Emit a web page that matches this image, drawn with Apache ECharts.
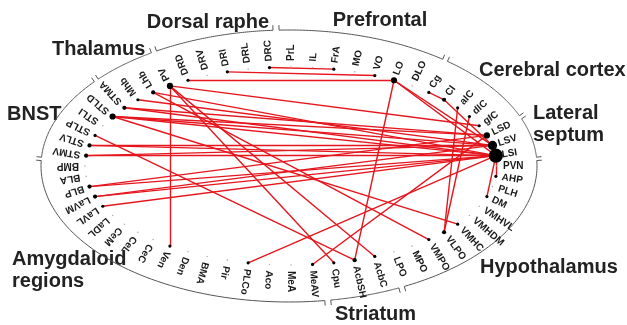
<!DOCTYPE html>
<html>
<head>
<meta charset="utf-8">
<script src="https://cdn.jsdelivr.net/npm/echarts@6/dist/echarts.min.js"></script>
<style>
  html, body { margin: 0; padding: 0; background: #fff; }
  #chart { width: 627px; height: 325px; }
</style>
</head>
<body>
<div id="chart"></div>
<script>
// Brain regions, each group listed counter-clockwise around the ring,
// starting at the lateral septum on the right-hand side.
const groupNames = ['Lateral septum', 'Cerebral cortex', 'Prefrontal', 'Dorsal raphe', 'Thalamus',
  'BNST', 'Amygdaloid regions', 'Striatum', 'Hypothalamus'];
const lateralSeptum = ['LSI', 'LSV', 'LSD'];
const cerebralCortex = ['gIC', 'dIC', 'aIC', 'Cl', 'Cg'];
const prefrontal = ['DLO', 'LO', 'VO', 'MO', 'FrA', 'IL', 'PrL'];
const dorsalRaphe = ['DRC', 'DRL', 'DRI', 'DRV', 'DRD'];
const thalamus = ['PV', 'Lhb', 'Mhb'];
const bnst = ['STMA', 'STLD', 'STLI', 'STLP', 'STLV', 'STMV'];
const amygdaloid = ['BMP', 'BLA', 'BLP', 'LaVM', 'LaVL', 'LaDL', 'CeM', 'CeL', 'CeC', 'Ven', 'Den',
  'BMA', 'Pir', 'PLCo', 'Aco', 'MeA', 'MeAV'];
const striatum = ['Cpu', 'AcbSH', 'AcbC'];
const hypothalamus = ['LPO', 'MPO', 'VMPO', 'VLPO', 'VMHC', 'VMHDM', 'VMHVL', 'DM', 'PLH', 'AHP', 'PVN'];

// Pairs of connected regions
const connections = [
  ['DRC', 'FrA'], ['DRI', 'VO'], ['DRD', 'LO'],
  ['PV', 'Ven'], ['PV', 'gIC'], ['PV', 'Cpu'], ['PV', 'AcbC'],
  ['Lhb', 'LSI'], ['Lhb', 'VMPO'], ['Mhb', 'LSV'],
  ['STMA', 'LSD'], ['STMA', 'LSI'],
  ['STLD', 'LSD'], ['STLD', 'LSV'], ['STLD', 'LSI'], ['STLD', 'VMHC'],
  ['STLP', 'AcbSH'],
  ['STLV', 'LSI'], ['STLV', 'LSV'], ['STMV', 'LSI'], ['STMV', 'LSV'],
  ['BLP', 'LSI'], ['BLP', 'LSD'], ['LaVM', 'LSV'], ['LaVM', 'LSI'], ['LaVL', 'LSI'],
  ['PLCo', 'LSI'], ['MeAV', 'LSD'], ['AcbSH', 'LO'],
  ['aIC', 'VLPO'], ['dIC', 'VLPO'], ['Cg', 'Cl'], ['Cl', 'LSV'],
  ['LO', 'LSI'], ['LO', 'LSV'], ['AHP', 'LSI'], ['DM', 'LSI']
];

const groups = [lateralSeptum, cerebralCortex, prefrontal, dorsalRaphe, thalamus, bnst,
  amygdaloid, striatum, hypothalamus];
const nodes = [].concat(...groups);

// Ring geometry (pixel units of the hidden 1:1 axes)
const RING = { cx: 291, cy: 166, rx: 206, ry: 99 };
const BRACE = { cx: 289, cy: 166, rx: 248, ry: 136 };
const STEP = 360 / nodes.length;
const START = STEP;
const RAD = Math.PI / 180;

function nodeAngle(i) { return START + STEP * i; }
function onEllipse(e, tDeg) {
  const t = tDeg * RAD;
  return [e.cx + e.rx * Math.cos(t), e.cy - e.ry * Math.sin(t)];
}

const degree = {};
nodes.forEach(n => { degree[n] = 0; });
connections.forEach(([a, b]) => { degree[a]++; degree[b]++; });

const groupRanges = [];
let offset = 0;
groups.forEach(g => { groupRanges.push([offset, offset + g.length - 1]); offset += g.length; });

const chart = echarts.init(document.getElementById('chart'));

const titleFont = 'bold 20px "Liberation Sans", Arial, sans-serif';
const titleColor = '#222';
const titleLayout = {
  'Lateral septum': { x: 533, y: 124, text: 'Lateral\nseptum', align: 'left' },
  'Cerebral cortex': { x: 479, y: 70, align: 'left' },
  'Prefrontal': { x: 380, y: 20, align: 'center' },
  'Dorsal raphe': { x: 208, y: 22, align: 'center' },
  'Thalamus': { x: 52, y: 49, align: 'left' },
  'BNST': { x: 7, y: 114, align: 'left' },
  'Amygdaloid regions': { x: 12, y: 270, text: 'Amygdaloid\nregions', align: 'left' },
  'Striatum': { x: 335, y: 314, align: 'left' },
  'Hypothalamus': { x: 480, y: 267, align: 'left' }
};

chart.setOption({
  animation: false,
  grid: { left: 0, right: 0, top: 0, bottom: 0 },
  xAxis: { type: 'value', min: 0, max: 627, show: false },
  yAxis: { type: 'value', min: 0, max: 325, inverse: true, show: false },
  graphic: groupNames.map(name => {
    const L = titleLayout[name];
    return {
      type: 'text', x: L.x, y: L.y, silent: true,
      style: {
        text: L.text || name, font: titleFont, fill: titleColor,
        align: L.align, verticalAlign: 'middle', lineHeight: 22
      }
    };
  }),
  series: [
    {
      // group braces along the outer ring
      type: 'custom',
      coordinateSystem: 'cartesian2d',
      silent: true,
      data: groupRanges.map((r, gi) => [gi, r[0], r[1]]),
      renderItem(params, api) {
        const a = api.value(1), b = api.value(2);
        const t0 = nodeAngle(a) - STEP / 2 + 0.7;
        const t1 = nodeAngle(b) + STEP / 2 - 0.7;
        const tick = t => {
          const t2 = t * RAD;
          let nx = Math.cos(t2) / BRACE.rx, ny = Math.sin(t2) / BRACE.ry;
          const len = Math.hypot(nx, ny);
          nx /= len; ny /= len;
          const p = onEllipse(BRACE, t);
          return api.coord([p[0] + 5 * nx, p[1] - 5 * ny]);
        };
        const pts = [tick(t0)];
        const n = 60;
        for (let k = 0; k <= n; k++) {
          pts.push(api.coord(onEllipse(BRACE, t0 + (t1 - t0) * k / n)));
        }
        pts.push(tick(t1));
        return {
          type: 'polyline',
          shape: { points: pts },
          style: { stroke: '#555', fill: null, lineWidth: 1 }
        };
      }
    },
    {
      type: 'graph',
      coordinateSystem: 'cartesian2d',
      silent: true,
      data: nodes.map((name, i) => ({
        name,
        value: onEllipse(RING, nodeAngle(i)),
        symbolSize: degree[name] ? 2.2 + degree[name] : 1.6,
        itemStyle: { color: degree[name] ? '#000' : '#b0b0b0' }
      })),
      links: connections.map(([s, t]) => ({ source: s, target: t })),
      lineStyle: { color: '#e5161d', width: 1.4, opacity: 1, curveness: 0 },
      label: { show: false },
      emphasis: { disabled: true },
      z: 3
    },
    {
      // region abbreviations, pointing outward from each node
      type: 'custom',
      coordinateSystem: 'cartesian2d',
      silent: true,
      data: nodes.map((name, i) => onEllipse(RING, nodeAngle(i)).concat(i)),
      renderItem(params, api) {
        const i = api.value(2);
        const t = nodeAngle(i) * RAD;
        const th = Math.atan2(1.5 * Math.sin(t), Math.cos(t));
        const p = api.coord([api.value(0), api.value(1)]);
        const gap = 6;
        return {
          type: 'text',
          x: p[0] + gap * Math.cos(th),
          y: p[1] - gap * Math.sin(th),
          rotation: th,
          style: {
            text: nodes[i],
            font: 'bold 10px "Liberation Sans", Arial, sans-serif',
            fill: '#1a1a1a',
            align: 'left',
            verticalAlign: 'middle'
          }
        };
      },
      z: 4
    }
  ]
});
</script>
</body>
</html>
